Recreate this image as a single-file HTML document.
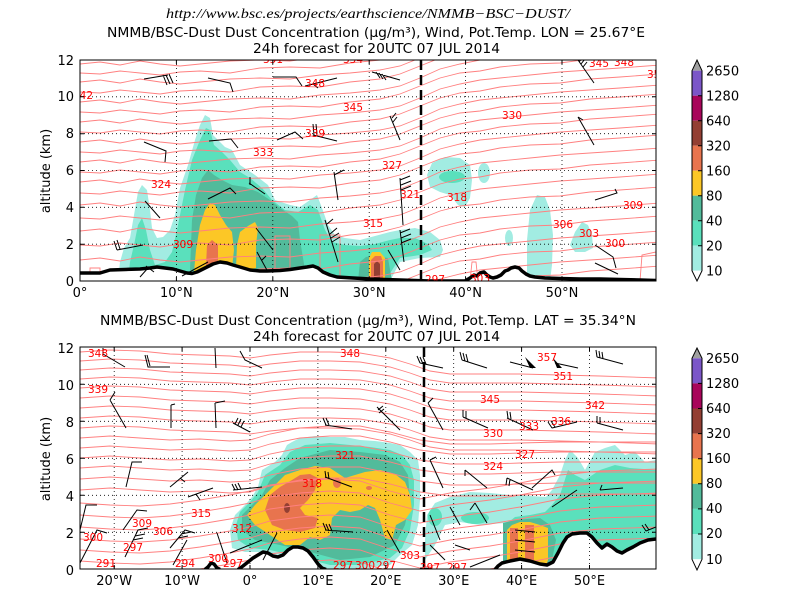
<!DOCTYPE html>
<html><head><meta charset="utf-8"><style>
html,body{margin:0;padding:0;background:#fff;}
svg{display:block;font-family:"DejaVu Sans","Liberation Sans",sans-serif;}
.t{font-size:13px;fill:#000;}
.cl{font-size:10.5px;fill:#ff0000;}
.grid{stroke:#000;stroke-width:0.8;stroke-dasharray:1,3;fill:none;}
.iso{fill:none;stroke:#ff8080;stroke-width:0.9;}
.barb{fill:none;stroke:#000;stroke-width:1;}
</style></head><body>
<svg width="800" height="600" viewBox="0 0 800 600" xmlns="http://www.w3.org/2000/svg">
<defs>
<clipPath id="c1"><rect x="80" y="60" width="576" height="221"/></clipPath>
<clipPath id="c2"><rect x="80" y="347" width="576" height="222"/></clipPath>
<path id="TA" d="M60,0 L80,0 L100,-2 L120,1 L140,-3 L160,0 L180,2 L200,0 L230,-3 L260,-4 L290,-3 L320,-7 L350,-9 L380,-12 L400,-16 L420,-24 L440,-33 L460,-38 L480,-42 L500,-44 L530,-47 L560,-50 L590,-52 L620,-54 L660,-57"/>
<path id="TB" d="M60,0 L80,0 L100,1 L120,-2 L140,0 L160,2 L180,-1 L200,-2 L230,0 L260,-5 L290,-6 L320,-5 L350,-10 L380,-13 L400,-18 L420,-26 L440,-34 L460,-39 L480,-41 L500,-45 L530,-48 L560,-49 L590,-53 L620,-55 L660,-58"/>
<path id="BU" d="M60,0 L80,0 L110,-2 L140,-1 L170,2 L200,3 L230,4 L250,6 L270,3 L300,0 L330,0 L360,1 L390,6 L410,12 L430,19 L450,22 L490,22 L520,22 L560,23 L600,24 L660,26"/>
<path id="BM" d="M60,0 L80,0 L110,-2 L140,0 L170,2 L200,1 L230,3 L250,2 L270,-4 L300,-10 L330,-12 L360,-12 L390,-6 L420,2 L450,6 L490,6 L520,5 L560,4 L600,4 L660,4"/>
<path id="BL" d="M60,0 L80,0 L110,2 L140,3 L170,1 L200,-3 L230,-8 L250,-12 L270,-18 L300,-22 L330,-24 L360,-22 L390,-12 L420,-4 L450,-10 L490,-15 L520,-20 L560,-28 L600,-32 L660,-34"/>
</defs>

<!-- ============ TITLES TOP ============ -->
<text x="166" y="18" textLength="404" lengthAdjust="spacingAndGlyphs" style="font-family:'Liberation Serif',serif;font-style:italic;font-size:14px;">http://www.bsc.es/projects/earthscience/NMMB−BSC−DUST/</text>
<text class="t" x="107" y="37" textLength="538" lengthAdjust="spacingAndGlyphs">NMMB/BSC-Dust Dust Concentration (µg/m³), Wind, Pot.Temp. LON = 25.67°E</text>
<text class="t" x="253" y="53" textLength="247" lengthAdjust="spacingAndGlyphs">24h forecast for 20UTC 07 JUL 2014</text>

<!-- ============ TOP PLOT ============ -->
<g clip-path="url(#c1)">
<polygon fill="#a2ece2" points="118,281 120,262 124,248 130,238 134,215 138,192 142,185 147,190 150,210 152,228 157,238 163,237 170,230 175,215 180,188 188,165 195,140 200,125 205,115 210,118 213,135 218,140 225,147 232,150 240,165 255,175 268,185 275,200 290,205 300,207 310,200 317,195 322,208 328,225 335,235 345,238 360,240 375,236 390,232 400,230 415,228 430,232 440,240 443,250 440,257 420,258 400,262 390,281"/>
<polygon fill="#a2ece2" points="427,175 432,163 445,157 460,158 470,165 472,180 470,198 465,207 458,205 450,195 440,192 430,187"/>
<ellipse fill="#a2ece2" cx="484" cy="173" rx="6" ry="10"/>
<polygon fill="#a2ece2" points="527,281 527,240 530,210 537,195 545,197 550,210 553,235 552,265 550,281"/>
<ellipse fill="#a2ece2" cx="509" cy="238" rx="4" ry="8"/>
<polygon fill="#a2ece2" points="570,245 575,232 582,222 588,225 592,235 593,248 585,252 575,252"/>
<polygon fill="#5ae0bc" points="128,281 130,262 134,245 138,225 142,218 146,230 150,250 155,265 165,262 172,252 178,225 185,190 192,160 200,140 206,128 210,130 214,145 222,152 230,160 240,172 250,178 262,188 272,200 285,210 298,212 310,205 318,210 325,230 332,242 345,245 360,246 375,244 390,240 400,238 415,238 428,244 432,250 420,255 400,258 385,281"/>
<ellipse fill="#5ae0bc" cx="452" cy="177" rx="13" ry="6"/>
<polygon fill="#52bb9b" points="190,270 192,220 196,195 202,178 208,170 214,175 222,180 232,185 245,187 258,192 270,200 280,208 292,216 298,222 300,240 305,270"/>
<polygon fill="#52bb9b" points="358,281 360,262 366,257 376,256 388,258 392,281"/>
<polygon fill="#fcc726" points="194,272 196,250 200,225 205,210 210,203 215,205 220,215 226,225 232,232 234,250 232,268 220,265 208,265"/>
<polygon fill="#fcc726" points="236,268 237,245 240,232 248,226 255,222 258,228 256,245 256,268 245,270"/>
<polygon fill="#fcc726" points="369,279 369,258 372,252 380,252 385,258 385,279"/>
<polygon fill="#e8744e" points="206,266 207,245 212,240 218,245 218,266"/>
<polygon fill="#e8744e" points="371,279 371,260 375,256 381,256 383,262 383,279"/>
<polygon fill="#933f33" points="374,279 374,264 377,261 380,264 380,279"/>
<g class="iso">
<use href="#TA" transform="translate(0,64)"/><use href="#TB" transform="translate(0,73)"/>
<use href="#TA" transform="translate(0,82)"/><use href="#TB" transform="translate(0,92)"/>
<use href="#TA" transform="translate(0,102)"/><use href="#TB" transform="translate(0,112)"/>
<use href="#TA" transform="translate(0,122)"/><use href="#TB" transform="translate(0,132)"/>
<use href="#TA" transform="translate(0,142)"/><use href="#TB" transform="translate(0,152)"/>
<use href="#TA" transform="translate(0,162)"/><use href="#TB" transform="translate(0,172)"/>
<use href="#TA" transform="translate(0,182)"/><use href="#TB" transform="translate(0,193)"/>
<use href="#TA" transform="translate(0,205)"/><use href="#TB" transform="translate(0,218)"/>
<use href="#TA" transform="translate(0,231)"/><use href="#TB" transform="translate(0,245)"/>
<use href="#TA" transform="translate(0,260)"/><use href="#TB" transform="translate(0,274)"/>
<use href="#TA" transform="translate(0,288)"/><use href="#TB" transform="translate(0,300)"/>
<use href="#TA" transform="translate(0,312)"/><use href="#TB" transform="translate(0,324)"/>
<use href="#TA" transform="translate(0,336)"/>
<path d="M90,281 L90,268 L100,268 L100,281 M275,281 L275,236 L290,236 L290,281 M320,281 L320,235 L340,235 L340,281 M470,281 L472,262 L476,262 L478,281 M640,281 L642,255 L656,252"/>
</g>
<polygon fill="#fff" points="80,273 100,273 110,270 125,269.5 140,269 150,268 157,267 165,268 173,269 180,271 187,273 192,273.5 197,272 203,269 207,267 213,264 220,262 227,263 233,265 240,267 250,270 260,271 267,271 280,270.5 290,269.5 300,268 307,267 313,266 318,268 323,272 330,275 337,277 345,277.5 353,278 362,278.5 370,279 385,279.5 400,280 415,280.5 430,281 465,281 470,278 474,275 477,276 480,273 484,272 487,275 490,277 493,278 497,277 501,275 505,271 508,270 511,268 515,267 519,268 522,271 526,274 530,276 535,277 545,278 560,278.5 580,279 600,279 620,279.5 640,280 656,280.5 660,290 80,290"/>
<path class="grid" d="M176.4,60 V281 M272.8,60 V281 M369.2,60 V281 M465.6,60 V281 M562,60 V281 M80,244.2 H656 M80,207.3 H656 M80,170.5 H656 M80,133.7 H656 M80,96.8 H656"/>
<path class="barb" d="M144,79 L168,75 M163,75 L167,85 M166,75 L170,84 M169,74 L173,83 M208,78 L230,83 L233,92 M273,77 L296,77 L302,86 M305,86 L337,78 M313,84 L318,88 M372,72 L400,80 M376,72 L380,78 M379,73 L383,79 M382,74 L386,80 M144,142 L166,151 L165,162 M209,141 L231,139 L238,148 M277,140 L295,132 L303,139 M313,124 L314,135 M316,124 L317,134 M313,135 L337,141 M145,201 L160,218 M208,199 L230,188 L236,194 M249,183 L265,194 M250,185 L250,177 M334,172 L338,200 M334,175 L344,170 M117,250 L143,245 M117,250 L114,241 M120,249 L117,240 M256,228 L273,250 M257,252 L268,272 M262,260 L266,256 M182,276 L208,262 M140,277 L148,268 M325,220 L338,262 M327,224 L333,219 M330,234 L337,228 M331,238 L339,233 M332,242 L340,237 M390,116 L400,140 M392,118 L396,113 M393,122 L397,117 M578,60 L594,83 M579,62 L583,57 M581,64 L585,59 M583,67 L587,62 M578,117 L594,145 M578,117 L583,120 M595,200 L617,193 L615,189 M595,245 L613,257 L616,268 M595,263 L618,274 M400,178 L403,225 M400,180 L410,176 M401,185 L411,181 M401,190 L411,186 M400,230 L404,262 M400,233 L410,229 M401,238 L411,234 M401,243 L411,239 M388,250 L400,270 M146,266 L154,272"/>
<line x1="421" y1="60" x2="421" y2="281" stroke="#000" stroke-width="2.5" stroke-dasharray="10,5"/>
<polyline fill="none" stroke="#000" stroke-width="3.5" stroke-linejoin="round" points="80,273 100,273 110,270 125,269.5 140,269 150,268 157,267 165,268 173,269 180,271 187,273 192,273.5 197,272 203,269 207,267 213,264 220,262 227,263 233,265 240,267 250,270 260,271 267,271 280,270.5 290,269.5 300,268 307,267 313,266 318,268 323,272 330,275 337,277 345,277.5 353,278 362,278.5 370,279 385,279.5 400,280 415,280.5 430,281 465,281 470,278 474,275 477,276 480,273 484,272 487,275 490,277 493,278 497,277 501,275 505,271 508,270 511,268 515,267 519,268 522,271 526,274 530,276 535,277 545,278 560,278.5 580,279 600,279 620,279.5 640,280 656,280.5"/>
<g class="cl">
<text x="93" y="99" text-anchor="end">342</text>
<text x="263" y="63">351</text><text x="343" y="63">354</text>
<text x="305" y="87">348</text><text x="343" y="111">345</text>
<text x="305" y="137">339</text><text x="253" y="156">333</text>
<text x="151" y="188">324</text><text x="382" y="169">327</text>
<text x="363" y="227">315</text><text x="173" y="248">309</text>
<text x="400" y="198">321</text><text x="447" y="201">318</text>
<text x="502" y="119">330</text><text x="589" y="67">345</text>
<text x="614" y="66">348</text><text x="647" y="78">351</text>
<text x="623" y="209">309</text><text x="553" y="228">306</text>
<text x="579" y="237">303</text><text x="605" y="247">300</text>
<text x="425" y="283">297</text><text x="470" y="282">303</text>
</g>
</g>
<rect x="80" y="60" width="576" height="221" fill="none" stroke="#000" stroke-width="1"/>
<path stroke="#000" stroke-width="1" d="M176.4,281 v-4 M272.8,281 v-4 M369.2,281 v-4 M465.6,281 v-4 M562,281 v-4 M176.4,60 v4 M272.8,60 v4 M369.2,60 v4 M465.6,60 v4 M562,60 v4 M80,244.2 h4 M80,207.3 h4 M80,170.5 h4 M80,133.7 h4 M80,96.8 h4 M656,244.2 h-4 M656,207.3 h-4 M656,170.5 h-4 M656,133.7 h-4 M656,96.8 h-4"/>
<g class="t" text-anchor="end">
<text x="74" y="286">0</text><text x="74" y="249">2</text><text x="74" y="212">4</text>
<text x="74" y="175">6</text><text x="74" y="138">8</text><text x="74" y="101">10</text><text x="74" y="65">12</text>
</g>
<g class="t" text-anchor="middle">
<text x="80" y="297">0°</text><text x="176.4" y="297">10°N</text><text x="272.8" y="297">20°N</text>
<text x="369.2" y="297">30°N</text><text x="465.6" y="297">40°N</text><text x="562" y="297">50°N</text>
</g>
<text class="t" transform="translate(50,171) rotate(-90)" text-anchor="middle">altitude (km)</text>

<g>
<polygon points="692,70.7 702,70.7 697,60" fill="#a0a0a0"/>
<rect x="692" y="70.7" width="10" height="25" fill="#7b56c8"/>
<rect x="692" y="95.7" width="10" height="25" fill="#a8055a"/>
<rect x="692" y="120.7" width="10" height="25" fill="#933f33"/>
<rect x="692" y="145.7" width="10" height="25" fill="#e8744e"/>
<rect x="692" y="170.7" width="10" height="25" fill="#fcc726"/>
<rect x="692" y="195.7" width="10" height="25" fill="#52bb9b"/>
<rect x="692" y="220.7" width="10" height="25" fill="#5ae0bc"/>
<rect x="692" y="245.7" width="10" height="25" fill="#a2ece2"/>
<polygon points="692,270.7 702,270.7 697,281" fill="#fff"/>
<polygon points="697,60 702,70.7 702,270.7 697,281 692,270.7 692,70.7" fill="none" stroke="#000" stroke-width="1"/>
<path stroke="#000" stroke-width="1" d="M698,95.7 h4 M698,120.7 h4 M698,145.7 h4 M698,170.7 h4 M698,195.7 h4 M698,220.7 h4 M698,245.7 h4"/>
<g class="t">
<text x="706" y="75.5">2650</text><text x="706" y="100.5">1280</text><text x="706" y="125.5">640</text>
<text x="706" y="150.5">320</text><text x="706" y="175.5">160</text><text x="706" y="200.5">80</text>
<text x="706" y="225.5">40</text><text x="706" y="250.5">20</text><text x="706" y="275.5">10</text>
</g>
</g>

<!-- ============ TITLES BOTTOM ============ -->
<text class="t" x="100" y="325" textLength="536" lengthAdjust="spacingAndGlyphs">NMMB/BSC-Dust Dust Concentration (µg/m³), Wind, Pot.Temp. LAT = 35.34°N</text>
<text class="t" x="253" y="341" textLength="247" lengthAdjust="spacingAndGlyphs">24h forecast for 20UTC 07 JUL 2014</text>

<!-- ============ BOTTOM PLOT ============ -->
<g clip-path="url(#c2)">
<polygon fill="#a2ece2" points="232,548 230,530 235,515 245,505 252,497 258,487 262,470 275,462 282,455 287,445 292,442 300,438 315,436 330,437 345,437 360,440 375,441 390,443 400,445 410,452 418,460 420,475 420,500 418,525 412,545 400,555 390,565 360,569 330,569 320,567 300,560 280,555 260,552 245,552"/>
<polygon fill="#a2ece2" points="425,540 427,515 435,503 450,497 470,492 490,493 510,495 530,496 546,497 552,490 560,475 565,460 570,450 578,458 585,470 595,452 605,448 615,445 625,455 635,452 645,462 656,460 656,545 560,545 545,530 520,528 505,523 480,525 460,522 445,525 435,545 425,560"/>
<polygon fill="#5ae0bc" points="238,540 236,525 240,512 250,502 258,492 265,475 280,465 290,452 305,445 330,443 350,445 370,447 390,450 402,455 410,465 414,480 414,505 410,530 402,548 390,558 360,565 330,565 300,557 270,550 250,548"/>
<polygon fill="#5ae0bc" points="505,569 505,525 515,517 530,515 545,512 552,505 560,495 568,470 575,475 585,480 600,470 615,465 630,468 656,470 656,545 620,553 600,548 580,534 567,537 553,562 540,569"/>
<ellipse fill="#5ae0bc" cx="435" cy="517" rx="7" ry="9"/>
<ellipse fill="#5ae0bc" cx="475" cy="518" rx="14" ry="6"/>
<polygon fill="#52bb9b" points="242,530 242,515 252,505 262,495 270,480 285,468 300,458 330,450 360,452 385,455 400,462 408,475 410,500 405,525 395,545 370,557 340,560 310,552 280,545 255,540"/>
<polygon fill="#52bb9b" points="503,569 503,523 515,520 540,518 550,525 556,540 552,560 548,569"/>
<polygon fill="#fcc726" points="247,515 255,505 265,495 275,485 285,475 300,470 315,466 330,468 345,478 355,475 365,472 380,470 395,474 405,482 410,495 412,510 405,520 396,525 392,540 385,538 380,520 375,508 368,505 360,510 350,512 340,510 332,518 330,535 320,540 310,537 300,545 285,545 270,535 255,525"/>
<polygon fill="#fcc726" points="507,569 507,530 512,525 520,522 530,522 540,525 548,528 548,560 545,569"/>
<polygon fill="#e8744e" points="265,510 270,495 280,487 292,480 300,475 310,474 318,478 315,490 308,500 300,508 305,515 318,518 315,528 300,532 285,530 272,525"/>
<ellipse fill="#e8744e" cx="337" cy="483" rx="4" ry="5"/>
<ellipse fill="#e8744e" cx="369" cy="488" rx="3" ry="2"/>
<rect x="510" y="528" width="8" height="41" fill="#e8744e"/>
<rect x="525" y="525" width="9" height="44" fill="#e8744e"/>
<ellipse fill="#933f33" cx="287" cy="508" rx="3" ry="5"/>
<g class="iso">
<use href="#BU" transform="translate(0,352)"/><use href="#BU" transform="translate(0,361)"/>
<use href="#BU" transform="translate(0,370)"/><use href="#BU" transform="translate(0,379)"/>
<use href="#BU" transform="translate(0,388)"/><use href="#BU" transform="translate(0,398)"/>
<use href="#BU" transform="translate(0,408)"/><use href="#BU" transform="translate(0,418)"/>
<use href="#BU" transform="translate(0,428)"/>
<use href="#BM" transform="translate(0,438)"/><use href="#BM" transform="translate(0,448)"/>
<use href="#BM" transform="translate(0,458)"/><use href="#BM" transform="translate(0,468)"/>
<use href="#BM" transform="translate(0,479)"/><use href="#BM" transform="translate(0,490)"/>
<use href="#BL" transform="translate(0,503)"/><use href="#BL" transform="translate(0,515)"/>
<use href="#BL" transform="translate(0,527)"/><use href="#BL" transform="translate(0,539)"/>
<use href="#BL" transform="translate(0,550)"/><use href="#BL" transform="translate(0,561)"/>
<use href="#BL" transform="translate(0,572)"/><use href="#BL" transform="translate(0,584)"/>
<use href="#BL" transform="translate(0,596)"/>
</g>
<polygon fill="#fff" points="80,569.5 205,569.5 208,567 211,563 214,564 217,568 220,569.5 238,569.5 243,566 248,562 253,558 258,555 263,552 268,553 273,556 278,557 283,555 288,550 293,547 298,547 303,548 308,551 313,557 318,564 322,568 326,569.5 495,569.5 498,566 502,563 510,561 520,559 530,561 540,564 547,565 553,562 558,553 563,543 567,537 572,534 580,533 587,533 592,537 597,543 602,548 607,544 612,547 617,551 622,553 627,550 633,547 640,543 648,540 656,539 660,580 80,580"/>
<path class="grid" d="M114.2,347 V569 M182.1,347 V569 M250,347 V569 M317.9,347 V569 M385.8,347 V569 M453.7,347 V569 M521.6,347 V569 M589.5,347 V569 M80,532.3 H656 M80,495.3 H656 M80,458.3 H656 M80,421.3 H656 M80,384.3 H656"/>
<path class="barb" d="M103,348 L103,354 L125,367 M145,355 L148,367 L170,367 M147,355 L150,366 M215,348 L216,368 M240,351 L245,360 L262,368 M110,400 L126,428 M110,400 L115,392 M171,405 L171,428 M171,405 L175,404 M215,403 L216,428 M215,403 L225,401 M233,423 L250,432 M235,424 L238,418 M238,425 L241,419 M241,427 L244,421 M325,425 L352,429 M326,425 L323,418 M329,425 L326,418 M377,407 L400,430 M378,410 L383,406 M379,413 L384,409 M126,487 L132,462 L142,462 M170,487 L188,472 M180,478 L185,482 M188,497 L213,488 M196,494 L200,500 M233,490 L262,487 M235,490 L232,484 M238,490 L235,484 M241,489 L238,483 M325,477 L352,487 M326,478 L325,471 M329,479 L328,472 M80,530 L86,505 L97,505 M123,530 L137,510 L147,511 M125,557 L138,530 L148,528 M133,540 L143,538 M135,536 L145,534 M170,548 L185,530 L195,533 M178,538 L188,536 M181,534 L191,532 M173,565 L187,540 M80,563 L97,530 L107,533 M217,533 L227,563 M230,553 L262,540 M263,560 L277,533 M325,530 L353,532 M326,530 L323,523 M329,531 L326,524 M332,531 L329,524 M387,530 L400,553 M420,363 L443,368 M420,363 L417,356 M423,364 L420,357 M426,364 L423,357 M462,360 L487,368 M462,360 L460,352 M465,361 L463,353 M468,362 L466,354 M510,362 L533,368 M555,363 L578,368 M597,357 L623,364 M597,357 L596,350 M600,358 L599,351 M603,359 L602,352 M428,403 L443,430 M428,403 L433,398 M463,417 L488,428 M463,417 L463,410 M466,418 L466,411 M507,418 L533,430 M508,418 L507,411 M511,419 L510,412 M552,428 L577,422 M552,428 L548,422 M555,427 L551,421 M597,423 L623,430 M597,423 L597,416 M600,424 L600,417 M430,460 L443,488 M430,460 L436,457 M465,470 L487,488 M465,470 L465,476 M507,478 L533,490 M507,478 L506,485 M510,479 L509,486 M552,507 L577,490 M600,490 L623,488 M600,490 L602,485 M475,503 L487,523 M475,503 L470,510 M450,507 L460,525 M455,545 L470,550 M430,515 L440,540 M430,545 L445,560 M470,567 L500,555 M646,531 L656,527 M646,531 L642,525 M649,530 L645,524 M532,488 L552,470 L555,475 M515,530 L535,532 M515,540 L535,542 M515,550 L535,552"/>
<polygon points="525,357 530,368 536,368" fill="#000"/>
<polygon points="553,358 557,368 562,368" fill="#000"/>
<line x1="424" y1="347" x2="424" y2="569" stroke="#000" stroke-width="2.5" stroke-dasharray="10,5"/>
<polyline fill="none" stroke="#000" stroke-width="3.5" stroke-linejoin="round" points="205,569.5 208,567 211,563 214,564 217,568 220,569.5"/>
<polyline fill="none" stroke="#000" stroke-width="3.5" stroke-linejoin="round" points="238,569.5 243,566 248,562 253,558 258,555 263,552 268,553 273,556 278,557 283,555 288,550 293,547 298,547 303,548 308,551 313,557 318,564 322,568 326,569.5"/>
<polyline fill="none" stroke="#000" stroke-width="3.5" stroke-linejoin="round" points="420,569.5 432,569.5"/>
<polyline fill="none" stroke="#000" stroke-width="3.5" stroke-linejoin="round" points="495,569.5 498,566 502,563 510,561 520,559 530,561 540,564 547,565 553,562 558,553 563,543 567,537 572,534 580,533 587,533 592,537 597,543 602,548 607,544 612,547 617,551 622,553 627,550 633,547 640,543 648,540 656,539"/>
<g class="cl">
<text x="88" y="357">348</text><text x="88" y="393">339</text>
<text x="191" y="517">315</text><text x="132" y="527">309</text>
<text x="153" y="535">306</text><text x="83" y="541">300</text>
<text x="123" y="551">297</text><text x="96" y="567">291</text>
<text x="175" y="567">294</text><text x="208" y="562">300</text>
<text x="223" y="567">297</text><text x="232" y="532">312</text>
<text x="302" y="487">318</text><text x="335" y="459">321</text>
<text x="340" y="357">348</text><text x="333" y="569">297</text>
<text x="355" y="569">300</text><text x="376" y="569">297</text>
<text x="400" y="559">303</text><text x="420" y="571">297</text>
<text x="447" y="571">297</text><text x="537" y="361">357</text>
<text x="553" y="380">351</text><text x="480" y="403">345</text>
<text x="585" y="409">342</text><text x="551" y="425">336</text>
<text x="519" y="430">333</text><text x="483" y="437">330</text>
<text x="515" y="458">327</text><text x="483" y="470">324</text>
</g>
</g>
<rect x="80" y="347" width="576" height="222" fill="none" stroke="#000" stroke-width="1"/>
<path stroke="#000" stroke-width="1" d="M114.2,569 v-4 M182.1,569 v-4 M250,569 v-4 M317.9,569 v-4 M385.8,569 v-4 M453.7,569 v-4 M521.6,569 v-4 M589.5,569 v-4 M114.2,347 v4 M182.1,347 v4 M250,347 v4 M317.9,347 v4 M385.8,347 v4 M453.7,347 v4 M521.6,347 v4 M589.5,347 v4 M80,532.3 h4 M80,495.3 h4 M80,458.3 h4 M80,421.3 h4 M80,384.3 h4 M656,532.3 h-4 M656,495.3 h-4 M656,458.3 h-4 M656,421.3 h-4 M656,384.3 h-4"/>
<g class="t" text-anchor="end">
<text x="74" y="575">0</text><text x="74" y="538">2</text><text x="74" y="501">4</text>
<text x="74" y="464">6</text><text x="74" y="427">8</text><text x="74" y="390">10</text><text x="74" y="353">12</text>
</g>
<g class="t" text-anchor="middle">
<text x="114.2" y="585">20°W</text><text x="182.1" y="585">10°W</text><text x="250" y="585">0°</text>
<text x="317.9" y="585">10°E</text><text x="385.8" y="585">20°E</text><text x="453.7" y="585">30°E</text>
<text x="521.6" y="585">40°E</text><text x="589.5" y="585">50°E</text>
</g>
<text class="t" transform="translate(50,459) rotate(-90)" text-anchor="middle">altitude (km)</text>

<g>
<polygon points="692,358.3 702,358.3 697,348" fill="#a0a0a0"/>
<rect x="692" y="358.3" width="10" height="25.1" fill="#7b56c8"/>
<rect x="692" y="383.4" width="10" height="25.1" fill="#a8055a"/>
<rect x="692" y="408.5" width="10" height="25.1" fill="#933f33"/>
<rect x="692" y="433.6" width="10" height="25.1" fill="#e8744e"/>
<rect x="692" y="458.7" width="10" height="25.1" fill="#fcc726"/>
<rect x="692" y="483.8" width="10" height="25.1" fill="#52bb9b"/>
<rect x="692" y="508.9" width="10" height="25.1" fill="#5ae0bc"/>
<rect x="692" y="534" width="10" height="25.3" fill="#a2ece2"/>
<polygon points="692,559.3 702,559.3 697,570" fill="#fff"/>
<polygon points="697,348 702,358.3 702,559.3 697,570 692,559.3 692,358.3" fill="none" stroke="#000" stroke-width="1"/>
<path stroke="#000" stroke-width="1" d="M698,383.4 h4 M698,408.5 h4 M698,433.6 h4 M698,458.7 h4 M698,483.8 h4 M698,508.9 h4 M698,534 h4"/>
<g class="t">
<text x="706" y="363">2650</text><text x="706" y="388">1280</text><text x="706" y="413">640</text>
<text x="706" y="438">320</text><text x="706" y="463">160</text><text x="706" y="488">80</text>
<text x="706" y="513">40</text><text x="706" y="538">20</text><text x="706" y="564">10</text>
</g>
</g>
</svg>
</body></html>
